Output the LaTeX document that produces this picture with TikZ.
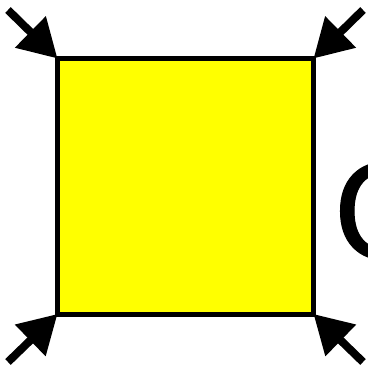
\documentclass[tikz,border=0pt]{standalone}
\usepackage{fontspec}
\setmainfont{DejaVu Sans}
\newfontfamily\labfont[FakeBold=0.8]{DejaVu Sans}
\usetikzlibrary{arrows.meta}
\definecolor{boxyellow}{RGB}{255,255,0}
\tikzset{
  box/.style={draw=black, line width=5pt, fill=boxyellow},
  pointer/.style={line width=8pt, -{Triangle[length=38pt,width=42pt]}},
}
\begin{document}
\begin{tikzpicture}[x=1pt,y=-1pt]
\useasboundingbox (0,0) rectangle (368,367);
\draw[box] (57.5,58.5) rectangle (313.5,314);
\coordinate (tl) at (57.5,58.5);
\coordinate (tr) at (313.5,58.5);
\coordinate (bl) at (57.5,314);
\coordinate (br) at (313.5,314);
\coordinate (tls) at (8,10);
\coordinate (trs) at (363,10);
\coordinate (bls) at (8,362);
\coordinate (brs) at (363,362);
\draw[pointer] (tls) -- (tl);
\draw[pointer] (trs) -- (tr);
\draw[pointer] (bls) -- (bl);
\draw[pointer] (brs) -- (br);
\node[anchor=west, inner sep=0pt, font=\labfont\fontsize{130}{130}\selectfont] (lab) at (333,211) {C};
\end{tikzpicture}
\end{document}
